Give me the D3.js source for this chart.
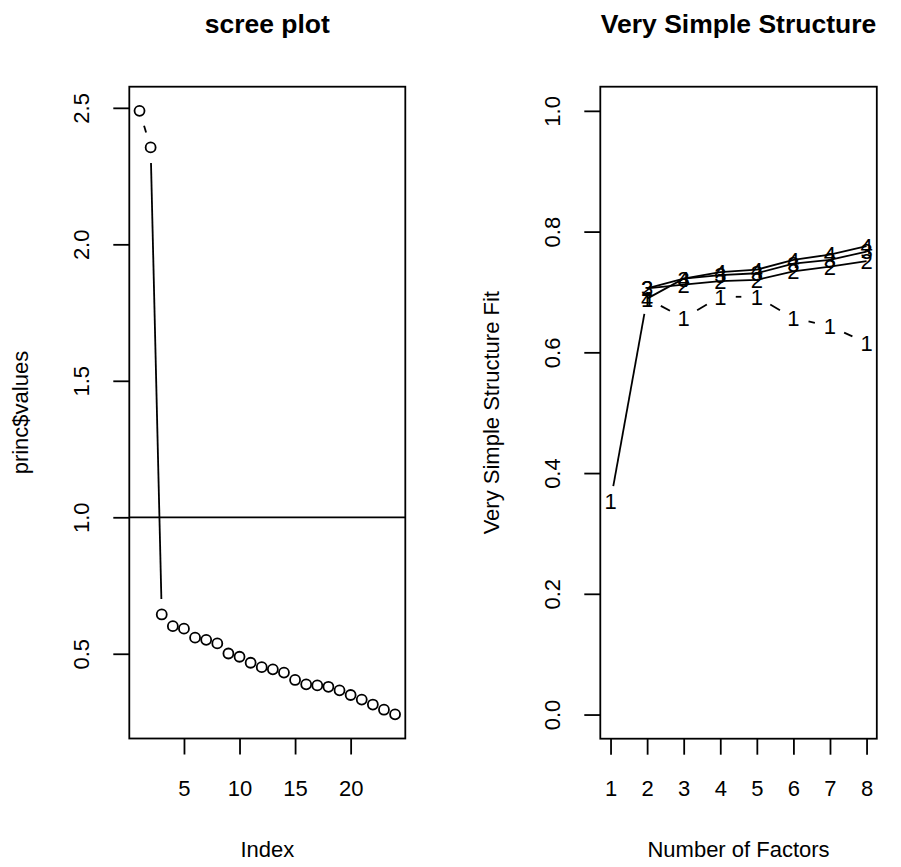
<!DOCTYPE html>
<html>
<head>
<meta charset="utf-8">
<script src="https://cdn.jsdelivr.net/npm/d3@7"></script>
<style>
  body { margin: 0; background: #fff; }
  svg text { font-family: "Liberation Sans", Arial, sans-serif; fill: #000; }
</style>
</head>
<body>
<div class="chart"></div>
<script>
// scree plot values (princ$values)
const eigenValues = [2.489, 2.355, 0.644, 0.601, 0.592, 0.559, 0.551, 0.538, 0.501, 0.489,
    0.467, 0.451, 0.443, 0.431, 0.404, 0.388, 0.384, 0.379, 0.366, 0.349,
    0.332, 0.314, 0.295, 0.278];
const screeXTicks = [5, 10, 15, 20];
const screeYTicks = [0.5, 1.0, 1.5, 2.0, 2.5];

// VSS fit by complexity
const nFactors = [1, 2, 3, 4, 5, 6, 7, 8];
const cfit1 = [0.353, 0.689, 0.657, 0.692, 0.692, 0.657, 0.643, 0.616];
const cfit2 = [null, 0.706, 0.712, 0.718, 0.720, 0.734, 0.742, 0.751];
const cfit3 = [null, 0.706, 0.722, 0.728, 0.731, 0.747, 0.753, 0.767];
const cfit4 = [null, 0.689, 0.722, 0.733, 0.737, 0.753, 0.762, 0.776];
const vssYTicks = [0.0, 0.2, 0.4, 0.6, 0.8, 1.0];

const W = 901, H = 867;
const lw = 1.8;
const fs = 22;

let svg = d3.select('.chart')
    .append('svg')
    .attr('width', W)
    .attr('height', H);

svg.append('rect').attr('width', W).attr('height', H).attr('fill', '#fff');

// R style padding of 4%
function pad(ext) {
    const d = (ext[1] - ext[0]) * 0.04;
    return [ext[0] - d, ext[1] + d];
}

// segments with gaps like type="b"
function segmentsB(g, pts, gap) {
    for (let i = 0; i < pts.length - 1; i++) {
        const [x1, y1] = pts[i], [x2, y2] = pts[i + 1];
        const dx = x2 - x1, dy = y2 - y1;
        const d = Math.sqrt(dx * dx + dy * dy);
        if (d <= 2 * gap) continue;
        const ux = dx / d, uy = dy / d;
        g.append('line')
            .attr('x1', x1 + ux * gap).attr('y1', y1 + uy * gap)
            .attr('x2', x2 - ux * gap).attr('y2', y2 - uy * gap)
            .attr('stroke', '#000').attr('stroke-width', lw);
    }
}

function panel(box, xScale, yScale, xTicks, yTicks, yFmt, title, xLab, yLab) {
    let group = svg.append('g');

    const xAxis = d3.axisBottom(xScale).tickValues(xTicks).tickSize(16).tickSizeOuter(0);
    const yAxis = d3.axisLeft(yScale).tickValues(yTicks).tickSize(16).tickSizeOuter(0).tickFormat(yFmt);

    let gx = group.append('g')
        .attr('transform', `translate(0, ${box.bottom})`)
        .call(xAxis);
    gx.select('.domain').remove();
    gx.selectAll('line').attr('stroke-width', lw);
    gx.selectAll('text')
        .attr('y', 57.5).attr('dy', 0)
        .attr('font-size', fs).attr('font-family', null);

    let gy = group.append('g')
        .attr('transform', `translate(${box.left}, 0)`)
        .call(yAxis);
    gy.select('.domain').remove();
    gy.selectAll('line').attr('stroke-width', lw);
    gy.selectAll('text')
        .attr('x', 0).attr('dy', 0)
        .attr('text-anchor', 'middle')
        .attr('transform', 'translate(-40,0) rotate(-90)')
        .attr('font-size', fs).attr('font-family', null);

    group.append('rect')
        .attr('x', box.left).attr('y', box.top)
        .attr('width', box.right - box.left)
        .attr('height', box.bottom - box.top)
        .attr('fill', 'none').attr('stroke', '#000').attr('stroke-width', lw);

    const cx = (box.left + box.right) / 2;
    svg.append('text')
        .text(title)
        .attr('x', cx).attr('y', 33)
        .attr('text-anchor', 'middle')
        .attr('font-size', 26.5)
        .attr('font-weight', 'bold');

    svg.append('text')
        .text(xLab)
        .attr('x', cx).attr('y', box.bottom + 118)
        .attr('text-anchor', 'middle')
        .attr('font-size', fs);

    svg.append('text')
        .text(yLab)
        .attr('text-anchor', 'middle')
        .attr('font-size', fs)
        .attr('transform', `translate(${box.left - 101}, ${(box.top + box.bottom) / 2}) rotate(-90)`);

    return group;
}

// ---- scree plot ----
const box1 = {left: 129.3, right: 405.3, top: 86.7, bottom: 738.5};
const idx = eigenValues.map((d, i) => i + 1);
const x1 = d3.scaleLinear().domain(pad([1, eigenValues.length])).range([box1.left, box1.right]);
const y1 = d3.scaleLinear().domain(pad(d3.extent(eigenValues))).range([box1.bottom, box1.top]);

let g1 = panel(box1, x1, y1, screeXTicks, screeYTicks, d3.format('.1f'),
    'scree plot', 'Index', 'princ$values');

// abline(h = 1)
g1.append('line')
    .attr('x1', box1.left).attr('x2', box1.right)
    .attr('y1', y1(1)).attr('y2', y1(1))
    .attr('stroke', '#000').attr('stroke-width', lw);

segmentsB(g1, eigenValues.map((d, i) => [x1(idx[i]), y1(d)]), 15.5);

g1.selectAll('circle')
    .data(eigenValues)
    .enter()
    .append('circle')
    .attr('cx', (d, i) => x1(idx[i]))
    .attr('cy', d => y1(d))
    .attr('r', 5)
    .attr('fill', 'none')
    .attr('stroke', '#000')
    .attr('stroke-width', lw);

// ---- VSS plot ----
const box2 = {left: 600.3, right: 876.8, top: 86.7, bottom: 738.7};
const x2 = d3.scaleLinear().domain(pad([1, 8])).range([box2.left, box2.right]);
const y2 = d3.scaleLinear().domain(pad([0, 1])).range([box2.bottom, box2.top]);

let g2 = panel(box2, x2, y2, nFactors, vssYTicks, d3.format('.1f'),
    'Very Simple Structure', 'Number of Factors', 'Very Simple Structure Fit');

segmentsB(g2, cfit1.map((d, i) => [x2(nFactors[i]), y2(d)]), 15.5);

const line = d3.line()
    .defined(d => d[1] != null)
    .x(d => x2(d[0]))
    .y(d => y2(d[1]));

const others = [cfit2, cfit3, cfit4];
others.forEach(s => {
    g2.append('path')
        .datum(s.map((d, i) => [nFactors[i], d]))
        .attr('d', line)
        .attr('fill', 'none')
        .attr('stroke', '#000')
        .attr('stroke-width', lw);
});

[cfit1, cfit2, cfit3, cfit4].forEach((s, k) => {
    g2.selectAll('.lab' + k)
        .data(s.map((d, i) => [nFactors[i], d]).filter(d => d[1] != null))
        .enter()
        .append('text')
        .attr('class', 'lab' + k)
        .text(String(k + 1))
        .attr('x', d => x2(d[0]))
        .attr('y', d => y2(d[1]))
        .attr('dy', '0.36em')
        .attr('text-anchor', 'middle')
        .attr('font-size', fs);
});
</script>
</body>
</html>
